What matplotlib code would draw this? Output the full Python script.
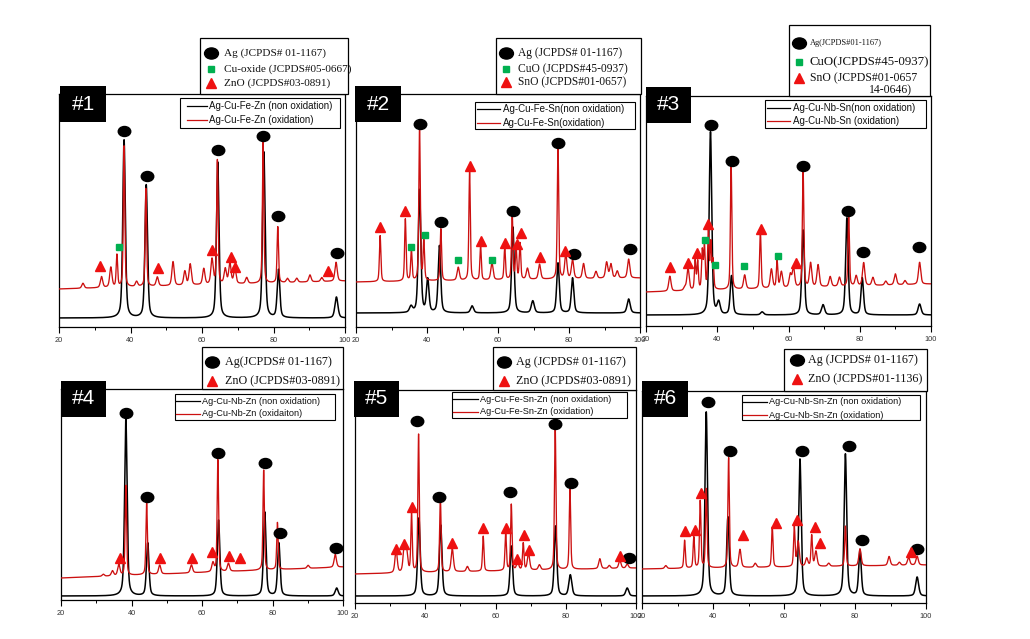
import numpy as np
import matplotlib
matplotlib.use("Agg")
import matplotlib.pyplot as plt
from matplotlib.patches import Rectangle
from matplotlib.lines import Line2D
from matplotlib.markers import MarkerStyle
from matplotlib.transforms import Affine2D

# ---------------- data ----------------
# x = 2theta (deg); y = intensity in arbitrary units (pixels above the axis bottom)
x_ticks = [20, 40, 60, 80, 100]
x_tick_labels = ["20", "40", "60", "80", "100"]

# Panel 1  Ag-Cu-Fe-Zn
p1_black_base = [9, 9]
p1_black_pos = [38.2, 44.4, 64.4, 77.3, 81.4, 97.6]
p1_black_amp = [178, 133, 156, 166, 48, 21]
p1_red_base = [38, 46]
p1_red_pos = [26.7, 31.9, 34.5, 36.2, 38.2, 41.7, 44.3, 47.5, 51.9, 55.2, 56.7, 60.5, 62.8,
              64.3, 66.5, 67.8, 69.2, 72.5, 77.1, 81.2, 83.9, 86.5, 90.2, 93.5, 97.5]
p1_red_amp = [5, 11, 20, 32, 141, 5, 98, 9, 24, 14, 21, 16, 25,
              124, 15, 21, 15, 6, 141, 56, 4, 4, 7, 4, 19]
p1_ag_x = [38.1, 44.5, 64.4, 77.1, 81.3, 97.7]
p1_ag_y = [196, 151, 177, 191, 111, 74]
p1_sq_x = [36.7]
p1_sq_y = [80]
p1_tri_x = [31.6, 47.6, 62.9, 68.1, 69.3, 95.3]
p1_tri_y = [61, 59, 77, 70, 60, 56]

# Panel 2  Ag-Cu-Fe-Sn
p2_black_base = [14, 14]
p2_black_pos = [35.5, 37.9, 40.2, 43.5, 52.7, 64.2, 69.8, 76.9, 81.0, 96.8]
p2_black_amp = [6, 123, 33, 67, 7, 86, 12, 50, 35, 14]
p2_red_base = [45, 49]
p2_red_pos = [26.8, 33.9, 35.6, 37.9, 39.1, 43.9, 48.8, 52.0, 55.1, 58.3, 61.9, 64.0, 65.1,
              66.2, 68.3, 71.7, 76.9, 79.1, 81.0, 84.1, 87.6, 90.6, 91.8, 93.6, 96.8]
p2_red_amp = [46, 62, 31, 155, 39, 52, 13, 109, 34, 17, 32, 66, 31,
              36, 11, 15, 133, 24, 19, 15, 7, 16, 14, 7, 19]
p2_ag_x = [37.9, 43.9, 64.1, 77.0, 81.3, 97.2]
p2_ag_y = [203, 105, 116, 184, 73, 78]
p2_sq_x = [35.6, 39.5, 48.7, 58.4]
p2_sq_y = [80, 92, 67, 67]
p2_tri_x = [26.8, 33.9, 52.0, 55.1, 62.1, 65.3, 66.5, 71.7, 78.8]
p2_tri_y = [100, 116, 161, 86, 84, 83, 94, 70, 76]

# Panel 3  Ag-Cu-Nb-Sn
p3_black_base = [11, 11]
p3_black_pos = [38.1, 40.4, 44.0, 52.6, 64.1, 69.7, 76.4, 80.7, 96.8]
p3_black_amp = [183, 12, 39, 3, 85, 10, 97, 37, 11]
p3_red_base = [34, 42]
p3_red_pos = [26.7, 30.9, 31.8, 33.8, 34.5, 35.8, 36.4, 37.5, 38.2, 38.8, 43.9, 47.7, 52.1,
              55.2, 56.8, 58.0, 60.5, 61.4, 64.1, 66.2, 68.3, 71.7, 74.3, 76.9, 79.0, 81.1,
              83.7, 87.3, 90.0, 92.7, 96.8]
p3_red_amp = [15, 3, 22, 29, 28, 38, 43, 59, 45, 28, 124, 14, 58,
              19, 27, 16, 13, 20, 118, 24, 22, 10, 9, 70, 10, 23,
              8, 4, 11, 4, 22]
p3_ag_x = [38.2, 44.2, 64.1, 76.7, 80.8, 96.5]
p3_ag_y = [201, 165, 160, 115, 74, 79]
p3_sq_x = [36.6, 39.4, 47.6, 57.1]
p3_sq_y = [86, 61, 60, 70]
p3_tri_x = [26.8, 31.8, 34.3, 37.5, 52.3, 62.0]
p3_tri_y = [59, 63, 73, 102, 97, 63]

# Panel 4  Ag-Cu-Nb-Zn
p4_black_base = [4, 4]
p4_black_pos = [38.4, 44.6, 64.7, 77.8, 81.8, 98.2]
p4_black_amp = [178, 53, 76, 84, 53, 8]
p4_red_base = [22, 33]
p4_red_pos = [32.0, 34.6, 36.4, 38.4, 44.3, 48.0, 57.0, 63.1, 64.5, 67.5, 77.5, 81.4, 90.1, 97.8]
p4_red_amp = [2, 5, 11, 90, 72, 9, 8, 9, 112, 8, 100, 47, 3, 13]
p4_ag_x = [38.3, 44.3, 64.5, 77.8, 82.1, 98.1]
p4_ag_y = [187, 103, 147, 137, 67, 52]
p4_tri_x = [36.6, 48.0, 57.1, 62.7, 67.8, 70.9]
p4_tri_y = [42, 42, 42, 48, 44, 42]

# Panel 5  Ag-Cu-Fe-Sn-Zn
p5_black_base = [7, 7]
p5_black_pos = [38.2, 44.4, 64.5, 77.1, 81.3, 97.5]
p5_black_amp = [78, 71, 50, 70, 21, 8]
p5_red_base = [29, 35]
p5_red_pos = [31.7, 34.0, 34.7, 36.1, 38.1, 44.3, 47.7, 52.0, 56.5, 62.9, 64.5, 66.3, 67.9,
              69.4, 72.5, 77.0, 81.2, 89.7, 92.4, 95.4, 97.5]
p5_red_amp = [23, 24, 20, 58, 138, 75, 23, 5, 35, 38, 66, 8, 27,
              17, 5, 143, 80, 10, 3, 8, 4]
p5_ag_x = [37.7, 43.8, 64.1, 77.0, 81.6, 98.0]
p5_ag_y = [182, 106, 111, 179, 120, 45]
p5_tri_x = [31.6, 34.0, 36.1, 47.6, 56.5, 62.9, 66.1, 68.0, 69.6, 95.4]
p5_tri_y = [54, 59, 96, 60, 75, 75, 44, 68, 53, 47]

# Panel 6  Ag-Cu-Nb-Sn-Zn
p6_black_base = [7, 7]
p6_black_pos = [38.1, 44.2, 64.5, 77.3, 81.4, 97.5]
p6_black_amp = [184, 79, 137, 142, 46, 19]
p6_red_base = [34, 38]
p6_red_pos = [26.7, 32.0, 34.6, 36.4, 38.1, 44.4, 47.6, 51.9, 56.7, 62.9, 64.0, 66.4, 67.8,
              69.0, 72.6, 77.3, 81.4, 89.6, 92.5, 95.1, 97.5]
p6_red_amp = [3, 28, 31, 67, 79, 110, 18, 4, 40, 40, 25, 8, 31,
              15, 3, 40, 17, 9, 3, 8, 9]
p6_ag_x = [38.6, 44.9, 65.0, 78.3, 82.1, 97.5]
p6_ag_y = [201, 152, 152, 157, 63, 54]
p6_tri_x = [32.0, 34.8, 36.7, 48.4, 57.7, 63.7, 68.7, 70.2, 95.7]
p6_tri_y = [72, 73, 110, 68, 80, 83, 76, 60, 51]

panel_ids = ["#1", "#2", "#3", "#4", "#5", "#6"]
line_labels = [
    ("Ag-Cu-Fe-Zn (non oxidation)", "Ag-Cu-Fe-Zn (oxidation)"),
    ("Ag-Cu-Fe-Sn(non oxidation)", "Ag-Cu-Fe-Sn(oxidation)"),
    ("Ag-Cu-Nb-Sn(non oxidation)", "Ag-Cu-Nb-Sn (oxidation)"),
    ("Ag-Cu-Nb-Zn (non oxidation)", "Ag-Cu-Nb-Zn (oxidaiton)"),
    ("Ag-Cu-Fe-Sn-Zn (non oxidation)", "Ag-Cu-Fe-Sn-Zn (oxidation)"),
    ("Ag-Cu-Nb-Sn-Zn (non oxidation)", "Ag-Cu-Nb-Sn-Zn (oxidation)"),
]
phase_labels = [
    ["Ag (JCPDS# 01-1167)", "Cu-oxide (JCPDS#05-0667)", "ZnO (JCPDS#03-0891)"],
    ["Ag (JCPDS# 01-1167)", "CuO (JCPDS#45-0937)", "SnO (JCPDS#01-0657)"],
    ["Ag(JCPDS#01-1167)", "CuO(JCPDS#45-0937)", "SnO (JCPDS#01-0657", "14-0646)"],
    ["Ag(JCPDS# 01-1167)", "ZnO (JCPDS#03-0891)"],
    ["Ag (JCPDS# 01-1167)", "ZnO (JCPDS#03-0891)"],
    ["Ag (JCPDS# 01-1167)", "ZnO (JCPDS#01-1136)"],
]

# ---------------- styling / layout ----------------
W, H = 1030, 639
BLACK = "#000000"
RED = "#cc1010"
MRED = "#ee1111"
GREEN = "#00b050"
SERIF = "Liberation Serif"
SANS = "Liberation Sans"

fig = plt.figure(figsize=(W / 100, H / 100), dpi=100)
fig.patch.set_facecolor("white")


def FX(px):
    return px / W


def FY(py):
    return 1 - py / H


def frect(x0, y0, x1, y1, fc="white", ec="black", lw=0.9, z=5):
    r = Rectangle((FX(x0), FY(y1)), FX(x1) - FX(x0), FY(y0) - FY(y1),
                  transform=fig.transFigure, fc=fc, ec=ec, lw=lw, zorder=z)
    fig.add_artist(r)


ELL = MarkerStyle("o", transform=Affine2D().scale(1.25, 1.0))


def profile(xg, pos, amp, base, width_big, width_small):
    y = base[0] + (base[1] - base[0]) * (xg - 20) / 80.0
    y = np.array(y, dtype=float)
    for c, a in zip(pos, amp):
        w = width_big if a > 25 else width_small
        lor = w ** 2 / ((xg - c) ** 2 + w ** 2)
        gau = np.exp(-np.log(2) * ((xg - c) / w) ** 2)
        y = y + a * (0.45 * lor + 0.55 * gau)
    return y


xg = np.linspace(20, 100, 5000)

axes_px = [
    (59, 94, 345, 327),
    (356, 94, 640, 327),
    (646, 96, 931, 326),
    (61, 389, 343, 600),
    (355, 390, 636, 603),
    (642, 391, 926, 603),
]

series = [
    (p1_black_pos, p1_black_amp, p1_black_base, p1_red_pos, p1_red_amp, p1_red_base,
     p1_ag_x, p1_ag_y, p1_sq_x, p1_sq_y, p1_tri_x, p1_tri_y),
    (p2_black_pos, p2_black_amp, p2_black_base, p2_red_pos, p2_red_amp, p2_red_base,
     p2_ag_x, p2_ag_y, p2_sq_x, p2_sq_y, p2_tri_x, p2_tri_y),
    (p3_black_pos, p3_black_amp, p3_black_base, p3_red_pos, p3_red_amp, p3_red_base,
     p3_ag_x, p3_ag_y, p3_sq_x, p3_sq_y, p3_tri_x, p3_tri_y),
    (p4_black_pos, p4_black_amp, p4_black_base, p4_red_pos, p4_red_amp, p4_red_base,
     p4_ag_x, p4_ag_y, [], [], p4_tri_x, p4_tri_y),
    (p5_black_pos, p5_black_amp, p5_black_base, p5_red_pos, p5_red_amp, p5_red_base,
     p5_ag_x, p5_ag_y, [], [], p5_tri_x, p5_tri_y),
    (p6_black_pos, p6_black_amp, p6_black_base, p6_red_pos, p6_red_amp, p6_red_base,
     p6_ag_x, p6_ag_y, [], [], p6_tri_x, p6_tri_y),
]

for i, ((x0, y0, x1, y1), s) in enumerate(zip(axes_px, series)):
    ax = fig.add_axes([FX(x0), FY(y1), FX(x1) - FX(x0), FY(y0) - FY(y1)])
    bp, ba, bb, rp, ra, rb, agx, agy, sqx, sqy, trx, try_ = s
    yb = profile(xg, bp, ba, bb, 0.42, 0.5)
    yr = profile(xg, rp, ra, rb, 0.24, 0.38)
    ax.plot(xg, yb, color=BLACK, lw=1.1, zorder=2)
    ax.plot(xg, yr, color=RED, lw=0.95, zorder=3)
    ax.plot(agx, agy, ls="none", marker=ELL, ms=7.2, color="black", zorder=4, clip_on=False)
    if sqx:
        ax.plot(sqx, sqy, ls="none", marker="s", ms=4.6, color=GREEN, zorder=4, clip_on=False)
    ax.plot(trx, try_, ls="none", marker="^", ms=6.8, color=MRED, zorder=4, clip_on=False)
    ax.set_xlim(20, 100)
    ax.set_ylim(0, y1 - y0)
    ax.set_yticks([])
    ax.set_xticks(x_ticks)
    ax.set_xticklabels(x_tick_labels, fontsize=5.3, family=SANS, color="#333333")
    ax.set_xticks([30, 50, 70, 90], minor=True)
    ax.tick_params(axis="x", which="major", direction="out", length=4, width=0.8, pad=3)
    ax.tick_params(axis="x", which="minor", direction="out", length=2.5, width=0.7)
    for sp in ax.spines.values():
        sp.set_linewidth(0.9)

# ---------------- panel number boxes ----------------
id_boxes = [(60, 86, 106, 122), (355, 86, 401, 122), (646, 87, 691, 123),
            (61, 381, 106, 417), (354, 381, 399, 417), (642, 381, 688, 417)]
for (bx0, by0, bx1, by1), lab in zip(id_boxes, panel_ids):
    frect(bx0, by0, bx1, by1, fc="black", ec="black", lw=0, z=6)
    fig.text(FX((bx0 + bx1) / 2), FY((by0 + by1) / 2), lab, color="white", fontsize=15,
             family=SANS, ha="center", va="center", zorder=7)

# ---------------- line legends (inside plots) ----------------
line_leg = [
    # box x0,y0,x1,y1, row1 y, row2 y, handle x0, x1, text x, fontsize
    (180, 98, 340, 128, 106, 120, 187, 207, 209, 7.0),
    (475, 102, 635, 129, 109, 123, 477, 500, 503, 7.0),
    (765, 100, 926, 128, 108, 121, 767, 790, 793, 7.0),
    (175, 394, 335, 420, 401, 414, 176, 200, 202, 6.6),
    (452, 392, 627, 418, 399, 412, 453, 478, 480, 6.6),
    (742, 395, 920, 420, 402, 415, 743, 767, 769, 6.6),
]
for (bx0, by0, bx1, by1, r1, r2, hx0, hx1, tx, fs), labs in zip(line_leg, line_labels):
    frect(bx0, by0, bx1, by1, lw=0.8, z=5)
    for ry, col, lab in [(r1, BLACK, labs[0]), (r2, RED, labs[1])]:
        fig.add_artist(Line2D([FX(hx0), FX(hx1)], [FY(ry), FY(ry)], color=col, lw=0.9,
                              transform=fig.transFigure, zorder=6))
        fig.text(FX(tx), FY(ry), lab, fontsize=fs, family=SANS, ha="left", va="center",
                 color="#111111", zorder=7)

# ---------------- phase legends (above plots) ----------------
phase_leg = [
    # box, marker x, text x, rows [(kind, y, fontsize)]
    ((200, 38, 348, 94), 211, 224, [("ag", 53, 8.1), ("sq", 69, 8.1), ("tri", 83, 8.1)]),
    ((496, 38, 641, 94), 506, 518, [("ag", 53, 8.3), ("sq", 69, 8.3), ("tri", 82, 8.3)]),
    ((789, 25, 930, 96), 799, 810, [("ag", 43, 6.0), ("sq", 62, 9.3), ("tri", 78, 8.5),
                                    ("none", 90, 8.5)]),
    ((202, 347, 343, 389), 212, 225, [("ag", 362, 8.7), ("tri", 381, 8.7)]),
    ((493, 347, 636, 390), 504, 516, [("ag", 362, 8.7), ("tri", 381, 8.7)]),
    ((784, 349, 927, 391), 797, 808, [("ag", 360, 8.7), ("tri", 379, 8.7)]),
]
for (box, mx, tx, rows), labs in zip(phase_leg, phase_labels):
    frect(*box, lw=0.9, z=5)
    for (kind, ry, fs), lab in zip(rows, labs):
        if kind == "ag":
            m = dict(marker=ELL, ms=8.0, color="black")
        elif kind == "sq":
            m = dict(marker="s", ms=5.0, color=GREEN)
        elif kind == "tri":
            m = dict(marker="^", ms=7.0, color=MRED)
        else:
            m = None
        xt = tx
        if m is not None:
            fig.add_artist(Line2D([FX(mx)], [FY(ry)], ls="none", transform=fig.transFigure,
                                  zorder=6, **m))
        else:
            xt = tx + 59
        fig.text(FX(xt), FY(ry), lab, fontsize=fs, family=SERIF, ha="left", va="center",
                 color="#111111", zorder=7)

fig.savefig("out.png", dpi=100, facecolor="white")
